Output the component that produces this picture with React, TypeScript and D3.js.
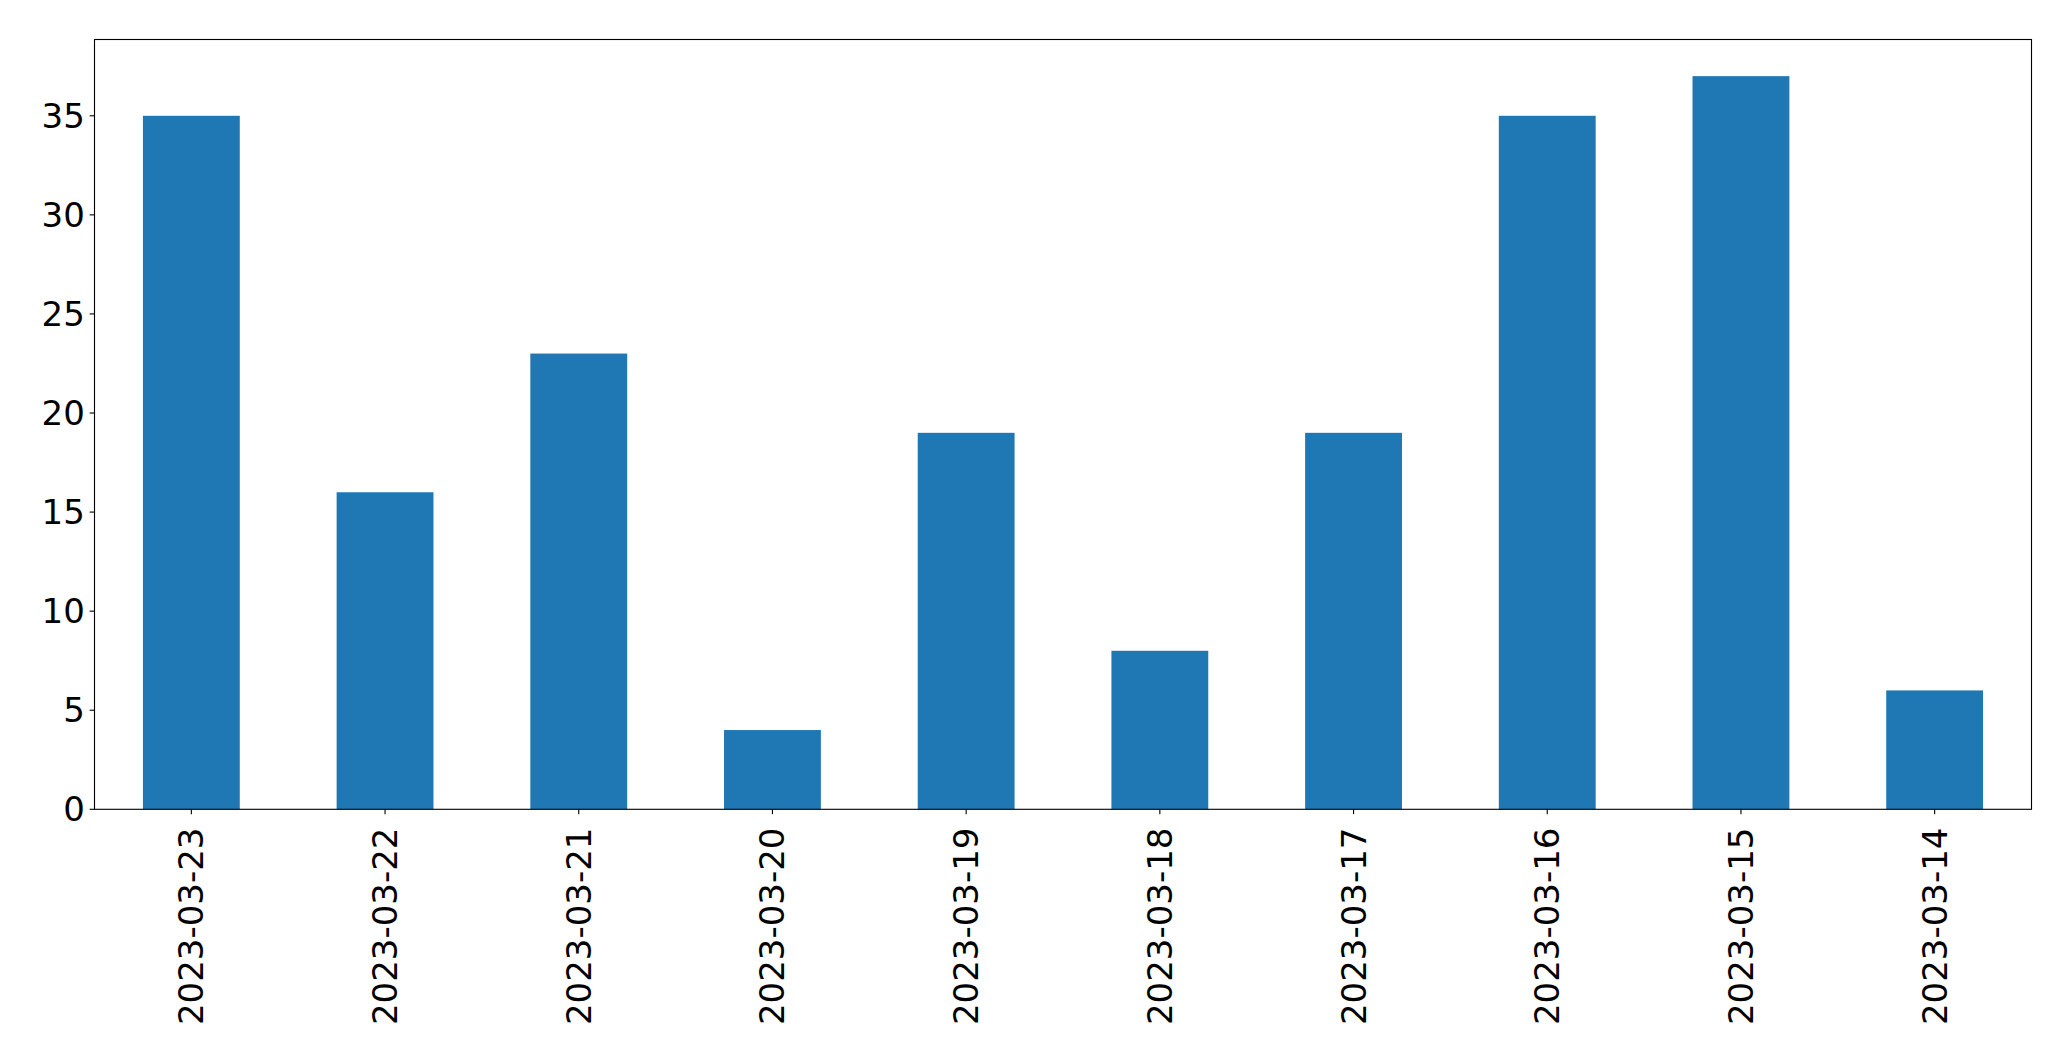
import React from "react";
import * as d3 from "d3";

const categories = ["2023-03-23","2023-03-22","2023-03-21","2023-03-20","2023-03-19","2023-03-18","2023-03-17","2023-03-16","2023-03-15","2023-03-14"];
const values = [35, 16, 23, 4, 19, 8, 19, 35, 37, 6];
const yTicks = [0, 5, 10, 15, 20, 25, 30, 35];

const W = 2071, H = 1061;
const M = { left: 94.5, right: 2031.5, top: 39.5, bottom: 809.3 };
const FONT = "DejaVu Sans";
const FS = 34;
const TICK = 4.86;

export default function App() {
  const x = d3.scaleLinear().domain([-0.5, categories.length - 0.5]).range([M.left, M.right]);
  const y = d3.scaleLinear().domain([0, d3.max(values)! * 1.05]).range([M.bottom, M.top]);
  const bw = x(0.25) - x(-0.25);
  return (
    <svg width={W} height={H} style={{ position: "absolute", left: 0, top: 0, background: "#fff" }} fontFamily={FONT}>
      <rect x={0} y={0} width={W} height={H} fill="#fff" />
      {values.map((v, i) => (
        <rect key={i} x={x(i) - bw / 2} y={y(v)} width={bw} height={y(0) - y(v)} fill="#1f77b4" />
      ))}
      <rect x={M.left} y={M.top} width={M.right - M.left} height={M.bottom - M.top} fill="none" stroke="#000" strokeWidth={1.11} />
      {yTicks.map((t) => (
        <g key={t}>
          <line x1={M.left - TICK} x2={M.left} y1={y(t)} y2={y(t)} stroke="#000" strokeWidth={1.11} />
          <text x={M.left - TICK - 4.86} y={y(t)} textAnchor="end" dominantBaseline="central" fontSize={FS} fill="#000">{t}</text>
        </g>
      ))}
      {categories.map((c, i) => (
        <g key={c}>
          <line x1={x(i)} x2={x(i)} y1={M.bottom} y2={M.bottom + TICK} stroke="#000" strokeWidth={1.11} />
          <text transform={`translate(${x(i)},${M.bottom + TICK + 4.86 + 8.5}) rotate(-90)`} textAnchor="end" dominantBaseline="central" fontSize={FS} fill="#000">{c}</text>
        </g>
      ))}
    </svg>
  );
}
